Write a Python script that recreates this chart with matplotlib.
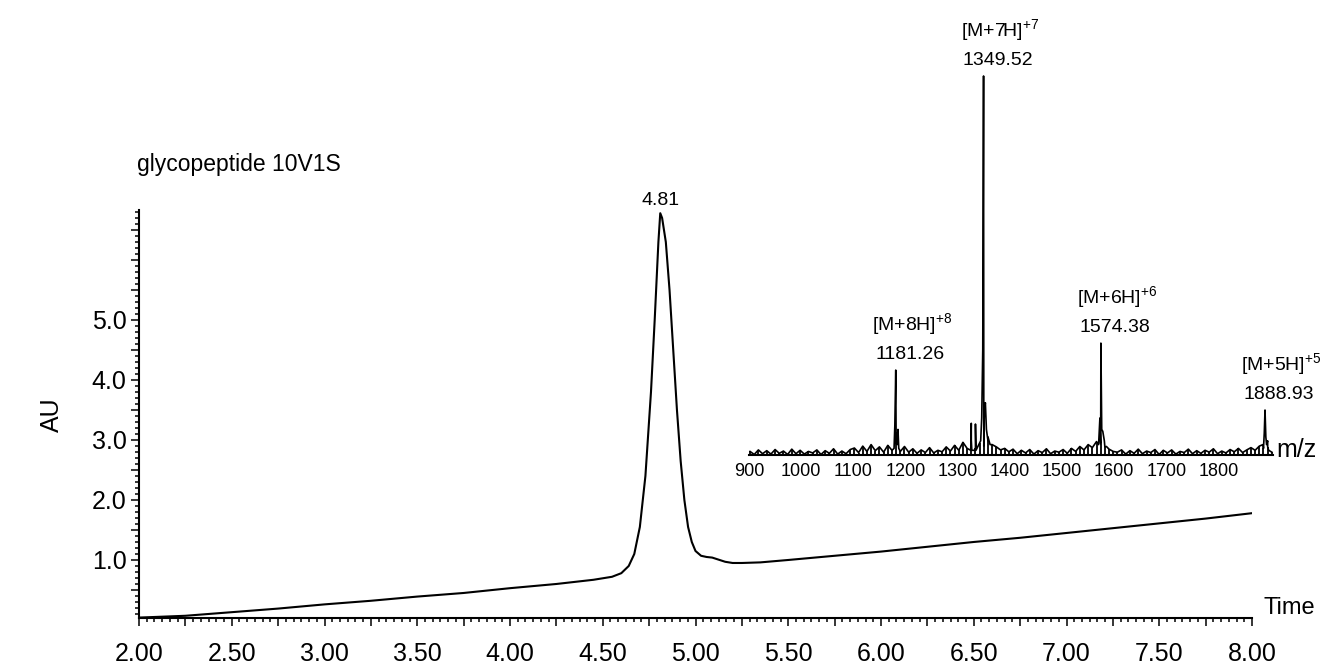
import numpy as np
import matplotlib
matplotlib.use("Agg")
import matplotlib.pyplot as plt
from matplotlib.ticker import FixedLocator, MultipleLocator, FuncFormatter

plt.rcParams['font.family'] = ['Liberation Sans', 'DejaVu Sans']
plt.rcParams['mathtext.fontset'] = 'custom'
plt.rcParams['mathtext.rm'] = 'Liberation Sans'
plt.rcParams['mathtext.default'] = 'regular'

# chromatogram (time in min, absorbance)
time = [2.00, 2.25, 2.50, 2.75, 3.00, 3.25, 3.50, 3.75, 4.00, 4.25, 4.45, 4.55,
        4.60, 4.64, 4.67, 4.70, 4.73, 4.76, 4.78, 4.80, 4.81, 4.82, 4.84, 4.86,
        4.88, 4.90, 4.92, 4.94, 4.96, 4.98, 5.00, 5.03, 5.06, 5.09, 5.12, 5.16,
        5.20, 5.25, 5.35, 5.50, 5.75, 6.00, 6.25, 6.50, 6.75, 7.00, 7.25, 7.50,
        7.75, 8.00]
au = [0.04, 0.07, 0.13, 0.19, 0.26, 0.32, 0.39, 0.45, 0.53, 0.60, 0.67, 0.72,
      0.78, 0.90, 1.10, 1.55, 2.40, 3.80, 5.00, 6.30, 6.78, 6.70, 6.30, 5.50,
      4.50, 3.50, 2.65, 2.00, 1.55, 1.30, 1.15, 1.07, 1.05, 1.04, 1.01, 0.97,
      0.95, 0.95, 0.96, 1.00, 1.07, 1.14, 1.22, 1.30, 1.37, 1.45, 1.53, 1.61,
      1.69, 1.78]
peak_rt = 4.81

# mass spectrum of the peak (relative intensity)
noise_start, noise_step = 902, 8
noise = [1.2, 0.4, 1.6, 0.6, 1.4, 0.5, 1.7, 0.7, 1.3, 0.4, 1.8, 0.6, 1.5, 0.5, 1.2,
         0.8, 1.6, 0.4, 1.4, 0.7, 1.9, 0.5, 1.3, 0.6, 1.7,
         2.1, 0.9, 2.6, 1.2, 3.0, 1.4, 2.4, 1.0, 2.8,
         1.5, 3.2, 1.2, 2.5,
         1.0, 1.9, 0.7, 1.6, 0.9, 2.2, 0.8, 1.5, 1.1, 2.4, 1.3,
         2.8, 1.5, 3.6, 2.0, 4.2, 2.2, 3.4, 2.6, 5.0, 3.0, 2.4, 1.6, 2.0,
         1.1, 1.8, 0.6, 1.5, 0.8, 1.7, 0.5, 1.4, 0.9, 1.9, 0.6, 1.3, 1.0, 1.7,
         0.7, 2.0, 1.2, 2.5,
         1.6, 3.0, 2.2, 3.8, 3.2, 2.4, 1.8, 1.2,
         1.0, 1.6, 0.5, 1.4, 0.7, 1.8, 0.6, 1.3, 0.9, 1.7, 0.4, 1.5, 0.8, 1.6,
         0.5, 1.2, 0.9, 1.8, 0.6, 1.4, 0.7, 1.5, 1.0, 1.9, 0.6, 1.3, 0.8, 1.7,
         1.1, 2.0, 0.9, 1.6,
         2.2, 1.5, 2.6, 2.0, 2.4, 1.0]
peak_mz = [1178, 1179.5, 1181.26, 1182.5, 1184, 1185.5, 1187,
           1325, 1326, 1327, 1333, 1334, 1335,
           1344, 1346, 1348, 1349.52, 1351, 1353, 1355, 1358, 1362,
           1570, 1572.5, 1574.38, 1576, 1578, 1581, 1585,
           1885, 1887.5, 1888.93, 1890.5, 1892, 1894, 1896]
peak_int = [2, 8, 22.6, 6, 3, 7, 2,
            1.5, 8.6, 1.5, 1.5, 8.4, 1.5,
            4, 10, 28, 100, 12, 14, 7, 4, 3,
            3, 10, 29.7, 7, 6.5, 4, 2.5,
            3, 6, 12.1, 5, 3, 4, 1.5]
ion_mz = [1181.26, 1349.52, 1574.38, 1888.93]
ion_int = [22.6, 100, 29.7, 12.1]
ion_names = [r'[M+8H]$^{+8}$', r'[M+7H]$^{+7}$', r'[M+6H]$^{+6}$', r'[M+5H]$^{+5}$']
mz_ticks = [900, 1000, 1100, 1200, 1300, 1400, 1500, 1600, 1700, 1800]

W, H = 1336, 667
fig = plt.figure(figsize=(W / 100, H / 100), dpi=100)

# main chromatogram
ax = fig.add_axes([139 / W, 1 - 618 / H, (1252 - 139) / W, (618 - 210) / H])
ax.plot(time, au, color='black', lw=1.5)
ax.set_xlim(2.0, 8.0)
ax.set_ylim(0.033, 6.833)
for s in ['top', 'right']:
    ax.spines[s].set_visible(False)
for s in ['left', 'bottom']:
    ax.spines[s].set_linewidth(1.5)

ax.xaxis.set_major_locator(MultipleLocator(0.25))
ax.xaxis.set_minor_locator(MultipleLocator(0.25 / 6))
ax.xaxis.set_major_formatter(FuncFormatter(
    lambda v, p: f'{v:.2f}' if abs(v * 2 - round(v * 2)) < 1e-6 else ''))
ax.yaxis.set_major_locator(FixedLocator([0.5, 1, 1.5, 2, 2.5, 3, 3.5, 4, 4.5, 5, 5.5, 6, 6.5]))
ax.yaxis.set_minor_locator(MultipleLocator(0.1))
ax.yaxis.set_major_formatter(FuncFormatter(
    lambda v, p: f'{v:.1f}' if abs(v - round(v)) < 1e-6 and v <= 5 else ''))
ax.tick_params(axis='x', which='major', direction='out', length=6, width=1.1,
               labelsize=18, pad=11)
ax.tick_params(axis='x', which='minor', direction='out', length=3, width=1.1)
ax.tick_params(axis='y', which='major', direction='out', length=6, width=1.1,
               labelsize=18, pad=3)
ax.tick_params(axis='y', which='minor', direction='out', length=3, width=1.1)

ax.annotate(f'{peak_rt:.2f}', xy=(peak_rt, max(au)), xytext=(0, 3),
            textcoords='offset points', ha='center', va='bottom',
            fontsize=14, annotation_clip=False)

fig.text(137 / W, 1 - 165 / H, 'glycopeptide 10V1S', fontsize=16.5, va='center')
fig.text(52 / W, 1 - 415 / H, 'AU', fontsize=18, rotation=90, ha='center', va='center')
fig.text(1263 / W, 1 - 608 / H, 'Time', fontsize=17, va='center')

# inset mass spectrum
ins = fig.add_axes([749 / W, 1 - 456 / H, 524.4 / W, 380 / H])
noise_mz = noise_start + noise_step * np.arange(len(noise))
mz_all = np.concatenate([noise_mz, peak_mz])
int_all = np.concatenate([noise, peak_int])
order = np.argsort(mz_all)
ins.vlines(noise_mz, 0, noise, color='black', lw=1.3, clip_on=False)
ins.plot(mz_all[order], int_all[order], color='black', lw=1.2, clip_on=False)
ins.axhline(0.3, color='black', lw=1.5, clip_on=False)
ins.set_xlim(900, 1905)
ins.set_ylim(0, 100)
ins.patch.set_alpha(0)
for s in ins.spines.values():
    s.set_visible(False)
ins.set_yticks([])
ins.set_xticks(mz_ticks)
ins.tick_params(axis='x', length=0, pad=5, labelsize=13)

for mz, h, name in zip(ion_mz, ion_int, ion_names):
    ins.annotate(f'{mz:.2f}', xy=(mz, h), xytext=(10, 11), textcoords='offset points',
                 ha='center', va='center', fontsize=14, annotation_clip=False)
    ins.annotate(name, xy=(mz, h), xytext=(12, 33), textcoords='offset points',
                 ha='center', va='center', fontsize=14, annotation_clip=False)

fig.text(1276 / W, 1 - 450 / H, 'm/z', fontsize=18, va='center')

fig.savefig('out.png', dpi=100)
